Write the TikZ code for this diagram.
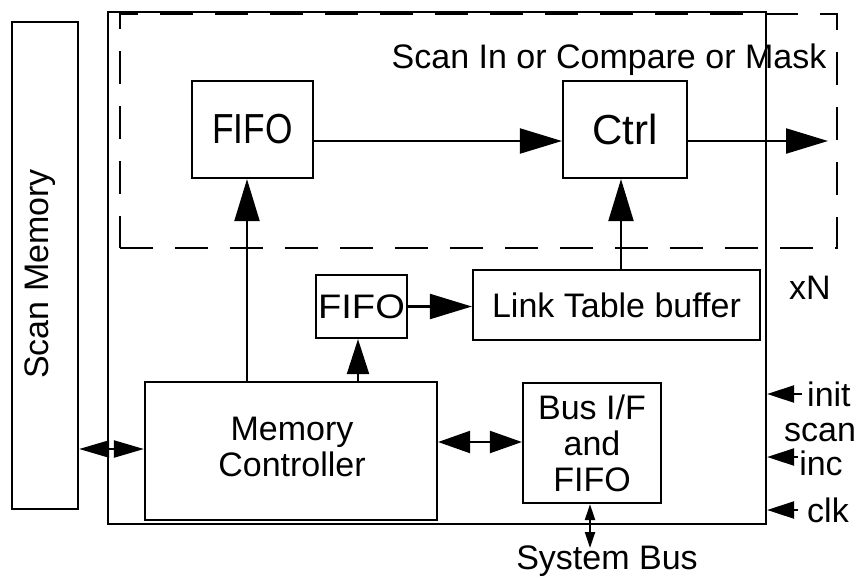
\documentclass[tikz,border=0pt]{standalone}
\usepackage{fontspec}
\setmainfont{Liberation Sans}
\usetikzlibrary{arrows.meta}
\begin{document}
\begin{tikzpicture}[x=1pt,y=-1pt,
  every node/.style={font=\fontsize{34}{36}\selectfont, inner sep=0pt, align=center},
  box/.style={draw, line width=2.2pt, rectangle},
  ln/.style={line width=2.2pt},
  bigarr/.style={ln, -{Triangle[length=42pt,width=25pt]}},
  midarr/.style={ln, -{Triangle[length=35pt,width=22pt]}},
  smallarr/.style={ln, -{Triangle[length=27pt,width=17pt]}},
  dblarr/.style={ln, {Triangle[length=30pt,width=17pt]}-{Triangle[length=30pt,width=17pt]}},
  busarr/.style={ln, {Triangle[length=32pt,width=22pt]}-{Triangle[length=32pt,width=22pt]}},
  sysarr/.style={ln, {Triangle[length=16pt,width=10pt]}-{Triangle[length=16pt,width=10pt]}},
  dashbox/.style={draw, line width=2.2pt, dash pattern=on 33pt off 22pt}
]
\useasboundingbox (0,0) rectangle (858,576);

% Scan memory
\node[box, minimum width=66pt, minimum height=487pt] (sm) at (45,265.5) {};
\node[rotate=90] (smt) at (40,274) {Scan Memory};

% outer box and dashed region
\node[box, minimum width=658pt, minimum height=512pt] (outer) at (437,268) {};
\node[dashbox, minimum width=717pt, minimum height=234pt] (dash) at (478.5,131) {};
\node[anchor=base] (sitxt) at (609,68) {Scan In or Compare or Mask};

% top blocks
\node[box, minimum width=121pt, minimum height=97pt] (fifo1) at (252.5,129.5)
  {\scalebox{0.84}[1]{\fontsize{42}{44}\selectfont FIFO}};
\node[box, minimum width=124pt, minimum height=97pt] (ctrl) at (625,129.5)
  {\fontsize{42}{44}\selectfont Ctrl};

% middle blocks
\node[box, minimum width=91pt, minimum height=63pt] (fifo2) at (361.5,306.5)
  {\scalebox{1.12}[1]{FIFO}};
\node[box, minimum width=287pt, minimum height=70pt] (ltb) at (616.5,305)
  {Link Table buffer};

% bottom blocks
\node[box, minimum width=292pt, minimum height=138pt] (mc) at (291,451) {};
\node (mct) at (292,447) {Memory\\Controller};
\node[box, minimum width=138pt, minimum height=120pt] (bus) at (592,443)
  {Bus I/F\\and\\FIFO};

% labels on the right
\node[anchor=west] (xn) at (789,288) {xN};
\node[anchor=west] (init) at (807,394) {init};
\node (scan) at (820,433) {scan};
\node (inc) at (821,463) {inc};
\node[anchor=west] (clk) at (807,510) {clk};
\node[anchor=base] (sysbus) at (607,569) {System Bus};

% free ends
\coordinate (out) at (828,141);
\coordinate (initsrc) at (802,394);
\coordinate (scansrc) at (798,457);
\coordinate (clksrc) at (798,510);
\coordinate (sysend) at (590,548);

% connectors
\draw[bigarr] ([yshift=-11.5pt]fifo1.east) -- ([yshift=-11.5pt]ctrl.west);
\draw[bigarr] ([yshift=-11.5pt]ctrl.east) -- (out);
\draw[bigarr] ([xshift=-5.5pt]fifo1.south |- mc.north) -- ([xshift=-5.5pt]fifo1.south);
\draw[bigarr] ([xshift=-4pt]ctrl.south |- ltb.north) -- ([xshift=-4pt]ctrl.south);
\draw[midarr] ([xshift=-3.5pt]fifo2.south |- mc.north) -- ([xshift=-3.5pt]fifo2.south);
\draw[bigarr] (fifo2.east) -- (fifo2.east -| ltb.west);
\draw[dblarr] ([yshift=2pt]mc.west -| sm.east) -- ([yshift=2pt]mc.west);
\draw[busarr] ([yshift=1pt]bus.west -| mc.east) -- ([yshift=1pt]bus.west);
\draw[sysarr] ([xshift=-2pt]bus.south) -- (sysend);
\draw[smallarr] (initsrc) -- (initsrc -| outer.east);
\draw[smallarr] (scansrc) -- (scansrc -| outer.east);
\draw[smallarr] (clksrc) -- (clksrc -| outer.east);
\end{tikzpicture}
\end{document}
